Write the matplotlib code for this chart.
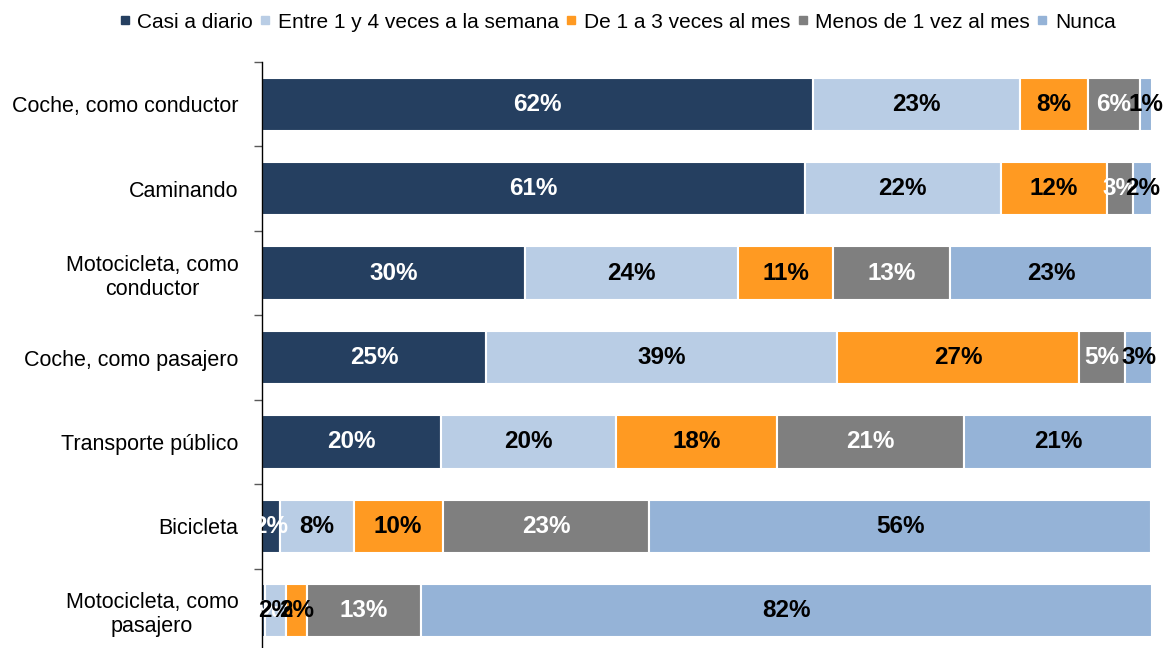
import matplotlib
matplotlib.use("Agg")
import matplotlib.pyplot as plt
from matplotlib.lines import Line2D
import numpy as np

plt.rcParams['font.family'] = ['Liberation Sans', 'DejaVu Sans']

categories = ["Coche, como conductor", "Caminando", "Motocicleta, como\nconductor",
              "Coche, como pasajero", "Transporte público", "Bicicleta",
              "Motocicleta, como\npasajero"]
series_names = ["Casi a diario", "Entre 1 y 4 veces a la semana", "De 1 a 3 veces al mes",
                "Menos de 1 vez al mes", "Nunca"]
casi_diario = [61.9, 61.0, 29.6, 25.2, 20.1, 2.0, 0.35]
entre_1_4 = [23.3, 22.0, 23.9, 39.4, 19.7, 8.3, 2.35]
de_1_3 = [7.6, 11.9, 10.7, 27.2, 18.1, 10.0, 2.35]
menos_1 = [5.85, 3.0, 13.1, 5.2, 21.0, 23.2, 12.8]
nunca = [1.35, 2.1, 22.7, 3.0, 21.1, 56.4, 82.1]

colors = ["#253F60", "#B9CDE5", "#FF9A22", "#7F7F7F", "#95B3D7"]
label_colors = ["white", "black", "black", "white", "black"]

data = [casi_diario, entre_1_4, de_1_3, menos_1, nunca]

fig = plt.figure(figsize=(11.73, 6.48), dpi=100)
W, H = 1173, 648
ax = fig.add_axes([262 / W, (648 - 653) / H, 890 / W, 591 / H])

y = np.arange(len(categories))
left = np.zeros(len(categories))
for vals, col, lc in zip(data, colors, label_colors):
    vals = np.array(vals)
    ax.barh(y, vals, left=left, height=0.63, color=col, edgecolor="white", linewidth=1.5)
    for i, (v, l) in enumerate(zip(vals, left)):
        ax.text(l + v / 2, y[i], f"{v:.0f}%", ha="center", va="center",
                color=lc, fontsize=17.5, fontweight="bold")
    left += vals

ax.set_xlim(0, 100)
ax.set_ylim(len(categories) - 0.5, -0.5)
ax.set_xticks([])
for s in ["top", "right", "bottom"]:
    ax.spines[s].set_visible(False)
ax.spines["left"].set_color("black")
ax.spines["left"].set_linewidth(1.0)

ax.set_yticks(np.arange(-0.5, len(categories), 1.0))
ax.set_yticklabels([])
ax.tick_params(axis="y", which="major", length=6, color="#595959", width=1)
ax.set_yticks(y, minor=True)
ax.set_yticklabels(categories, minor=True, fontsize=15.5, multialignment="center")
ax.tick_params(axis="y", which="minor", length=0, pad=17)

handles = [Line2D([0], [0], marker="s", linestyle="none", markersize=6,
                  markerfacecolor=c, markeredgecolor=c) for c in colors]
fig.legend(handles, series_names, loc="center", bbox_to_anchor=(617 / W, 1 - 22 / H),
           ncol=5, frameon=False, fontsize=15, handlelength=0.6, handletextpad=0.3,
           columnspacing=0.3, borderaxespad=0)

fig.savefig("out.png", dpi=100)
